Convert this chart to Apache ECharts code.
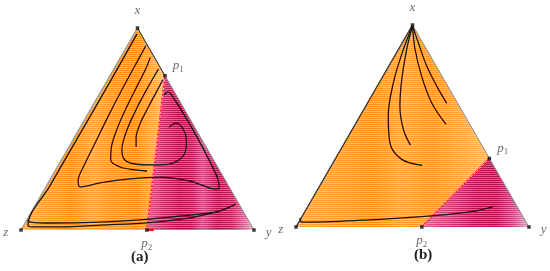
<!DOCTYPE html>
<html>
<head>
<meta charset="utf-8">
<script src="https://cdn.jsdelivr.net/npm/echarts@6/dist/echarts.min.js"></script>
<style>
  html, body { margin: 0; padding: 0; background: #fff; }
  #chart { width: 550px; height: 271px; }
</style>
</head>
<body>
<div id="chart"></div>
<script>
// simplex corners, side = 100
const cornerZ = [0, 0]
const cornerY = [100, 0]
const cornerX = [50, 86.6]

// switching points on the edges
const p1A = [61.8, 66.1]
const p2A = [54, 0]
const p1B = [83, 29.4]
const p2B = [54, 0]

// trajectories, panel (a)
const trajA = [
  [[49.8,84.1],[38.2,63.5],[25.3,41.2],[12.4,18.9],[3.0,2.1],[4.7,1.3],[16.7,1.3],[33.9,2.1],[55.3,3.2],[72.5,5.2],[85.4,8.2],[92.3,11.2]],
  [[2.8,4.2],[3.9,3.4],[12.4,3.0],[33.9,3.4],[55.3,4.7],[72.5,6.4],[84.5,7.7]],
  [[53.6,79.0],[48.9,70.4],[43.3,60.1],[37.3,48.5],[31.8,37.3],[27.0,27.5],[24.5,21.0],[25.3,18.5],[33.9,20.2],[46.8,21.9],[59.7,22.7],[72.5,21.0],[81.1,18.0],[85.0,17.6],[84.6,21.5],[80.7,30.0],[75.5,39.9],[70.0,49.4],[65.7,56.2],[63.1,59.2],[61.4,57.9]],
  [[54.1,25.3],[48.9,25.8],[42.5,27.0],[38.5,30.0],[38.8,35.6],[41.5,44.0],[45.5,53.0],[50.0,62.0],[53.5,69.0],[55.5,74.0]],
  [[63.5,44.0],[66.5,45.8],[69.5,43.5],[71.0,38.6],[70.5,33.5],[67.4,29.8],[61.8,28.0],[57.5,27.9],[48.9,28.3],[44.6,30.0],[43.3,34.3],[45.5,42.9],[49.8,52.4],[54.1,60.5],[57.5,66.5],[59.0,69.0]],
  [[49.4,35.6],[49.4,39.5],[51.1,45.5],[54.5,52.4],[57.9,58.8],[60.9,64.4]]
]

// trajectories, panel (b)
const trajB = [
  [[50,86.2],[52.5,79.0],[56.1,69.0],[60.4,60.4],[64.7,53.0]],
  [[50,86.2],[51.1,76.2],[53.9,64.7],[58.2,53.3],[64.4,44.0]],
  [[50,86.2],[47.5,76.2],[45.4,63.3],[44.6,51.8],[46.1,41.8],[49.1,35.1]],
  [[50,86.2],[46.1,76.2],[41.8,61.9],[39.6,47.6],[40.3,36.1],[45.4,29.0],[54.2,26.4]],
  [[1.7,3.9],[2.4,2.1],[5.3,2.1],[33.9,3.2],[59.7,4.9],[76.8,6.8],[84.7,8.7]]
]

const chart = echarts.init(document.getElementById('chart'))

// horizontal hatching
const hatch = (() => {
  const c = document.createElement('canvas')
  c.width = 4
  c.height = 2
  const ctx = c.getContext('2d')
  ctx.fillStyle = 'rgba(255,255,255,0.36)'
  ctx.fillRect(0, 1, 4, 1)
  return { image: c, repeat: 'repeat' }
})()

const grad = stops => new echarts.graphic.LinearGradient(0, 0, 1, 0,
  stops.map(s => ({ offset: s[0], color: s[1] })))

const fillsA = [
  grad([[0,'#FFA43A'],[0.18,'#FF9826'],[0.35,'#FF8C10'],[0.5,'#FFA036'],[0.62,'#FF921C'],[0.8,'#FF8A0C'],[0.92,'#FFA43C'],[1,'#FFBA64']]),
  grad([[0,'#D8507F'],[0.12,'#C8306A'],[0.3,'#B80A4C'],[0.42,'#BC1252'],[0.52,'#CC4580'],[0.66,'#B60A4C'],[0.8,'#C0205C'],[0.92,'#D46898'],[1,'#E8B0C8']])
]
const fillsB = [
  grad([[0,'#FFA43C'],[0.2,'#FF9A28'],[0.4,'#FF8E14'],[0.55,'#FFA034'],[0.7,'#FF921C'],[0.85,'#FFA034'],[1,'#FFB45A']]),
  grad([[0,'#D8608E'],[0.25,'#CC3A74'],[0.5,'#BA0E52'],[0.7,'#B80A4C'],[0.85,'#C84080'],[1,'#E0A0BE']])
]

const serif = 'Liberation Serif'
const rich = {
  i: { fontFamily: serif, fontStyle: 'italic', fontSize: 13, color: '#444' },
  s: { fontFamily: serif, fontSize: 9, color: '#444', padding: [7, 0, 0, 0] }
}

function panel(k, p1, p2, trajs, fills, extra) {
  const polys = [[cornerX, p1, p2, cornerZ], [p1, cornerY, p2]]
  const list = []
  list.push({
    type: 'custom', xAxisIndex: k, yAxisIndex: k, silent: true, clip: false, z: 1,
    data: polys.map((_, i) => [i, 0]),
    renderItem: (params, api) => {
      const pts = polys[params.dataIndex].map(p => api.coord(p))
      return {
        type: 'group',
        children: [
          { type: 'polygon', shape: { points: pts }, style: { fill: fills[params.dataIndex] } },
          { type: 'polygon', shape: { points: pts }, style: { fill: hatch } }
        ]
      }
    }
  })
  const line = (data, style, z) => ({
    type: 'line', xAxisIndex: k, yAxisIndex: k, data, showSymbol: false,
    silent: true, lineStyle: style, z: z || 3
  })
  // edges
  list.push(line([cornerZ, cornerX], { color: k === 0 ? '#9a9a9a' : '#333', width: 1.4 }))
  list.push(line([cornerX, cornerY], { color: '#8a8a8a', width: 1 }))
  if (k === 0) list.push(line([cornerX, p1], { color: '#333', width: 1 }))
  // divider
  list.push(line([p1, p2], { color: '#FF1E3C', width: 1.6 }, 4))
  list.push(line([p1, p2], { color: '#fff', width: 0.8, type: [2, 2] }, 4))
  if (extra) list.push(line(extra, { color: '#FF1010', width: 2.5 }, 4))
  // trajectories
  trajs.forEach(t => list.push({
    type: 'line', xAxisIndex: k, yAxisIndex: k, data: t, showSymbol: false,
    smooth: 0.35, silent: true, z: 5,
    lineStyle: { color: '#151515', width: 1.3 }
  }))
  // corner and point labels
  const lab = (pos, text, position, offset) => ({
    value: pos,
    label: { show: true, position, offset: offset || [0, 0], formatter: text, rich }
  })
  list.push({
    type: 'scatter', xAxisIndex: k, yAxisIndex: k, silent: true, z: 6,
    symbol: 'rect', symbolSize: 3.5, itemStyle: { color: '#111' },
    data: [
      lab(cornerX, '{i|x}', 'top', [0, -4]),
      lab(cornerZ, '{i|z}', 'left', [-6, 3]),
      lab(cornerY, '{i|y}', 'right', [5, 3]),
      lab(p1, '{i|p}{s|1}', 'right', [1, -10]),
      lab(p2, '{i|p}{s|2}', 'bottom', [0, -1])
    ]
  })
  return list
}

const axisX = i => ({ type: 'value', gridIndex: i, min: 0, max: 100, show: false })
const axisY = i => ({ type: 'value', gridIndex: i, min: 0, max: 86.6, show: false })

chart.setOption({
  animation: false,
  grid: [
    { left: 21, top: 28, width: 233, height: 202 },
    { left: 296, top: 25, width: 233, height: 202 }
  ],
  xAxis: [axisX(0), axisX(1)],
  yAxis: [axisY(0), axisY(1)],
  title: [
    { text: '(a)', left: 126, top: 245, textStyle: { fontFamily: serif, fontWeight: 'bold', fontSize: 15, color: '#222' } },
    { text: '(b)', left: 409, top: 243, textStyle: { fontFamily: serif, fontWeight: 'bold', fontSize: 15, color: '#222' } }
  ],
  series: [
    ...panel(0, p1A, p2A, trajA, fillsA, [p2A, [57, 0]]),
    ...panel(1, p1B, p2B, trajB, fillsB)
  ]
})
</script>
</body>
</html>
